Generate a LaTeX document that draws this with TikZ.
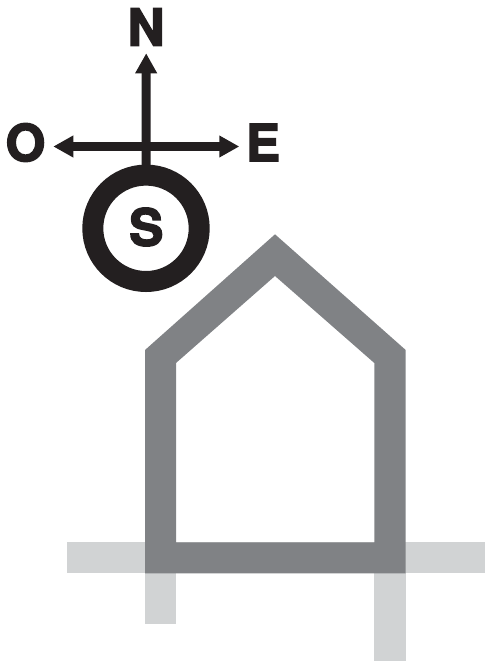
\documentclass[tikz,border=0pt]{standalone}
\usepackage{fontspec}
\usetikzlibrary{arrows.meta}
\newfontfamily\compassfont[FakeBold=3]{TeX Gyre Heros Bold}
\definecolor{ink}{HTML}{231F20}
\definecolor{wall}{HTML}{808285}
\definecolor{hidden}{HTML}{D1D3D4}
\tikzset{
  letter/.style={inner sep=0pt,text=ink,font=\compassfont\fontsize{51}{51}\selectfont},
  pointer/.style={draw=ink,line width=9pt,-{Triangle[length=20pt,width=20.6pt,fill=ink]}},
  ring/.style={circle,draw=ink,fill=white,line width=21pt,minimum size=106.4pt,inner sep=0pt,outer sep=0pt},
  wallfill/.style={fill=wall,draw=none},
  hiddenfill/.style={fill=hidden,draw=none}
}
\begin{document}
\begin{tikzpicture}[x=1pt,y=-1pt]
\useasboundingbox (0,0) rectangle (485,661);
% hidden foundation lines
\fill[hiddenfill] (66.7,542.3) rectangle (485,573.3);
\fill[hiddenfill] (145,573.3) rectangle (176,624);
\fill[hiddenfill] (374.3,573.3) rectangle (405.7,660.7);
% house outline
\fill[wallfill,even odd rule]
  (145,350) -- (275,234.3) -- (405.7,350) -- (405.7,573.3) -- (145,573.3) -- cycle
  (176,363) -- (275,276) -- (374.3,363) -- (374.3,542.3) -- (176,542.3) -- cycle;
% compass
\coordinate (cross) at (146.2,146.5);
\coordinate (tipN) at (146.2,53.3);
\coordinate (tipO) at (53.3,146.5);
\coordinate (tipE) at (239.3,146.5);
\node[ring] (sun) at (146,228.3) {};
\node[letter] (S) at (146.3,227) {S};
\node[letter] (N) at (146,27) {N};
\node[letter] (O) at (25.5,142.5) {O};
\node[letter] (E) at (263,142.5) {E};
\draw[pointer] (sun.north) -- (tipN);
\draw[pointer] (cross) -- (tipO);
\draw[pointer] (cross) -- (tipE);
\end{tikzpicture}
\end{document}
